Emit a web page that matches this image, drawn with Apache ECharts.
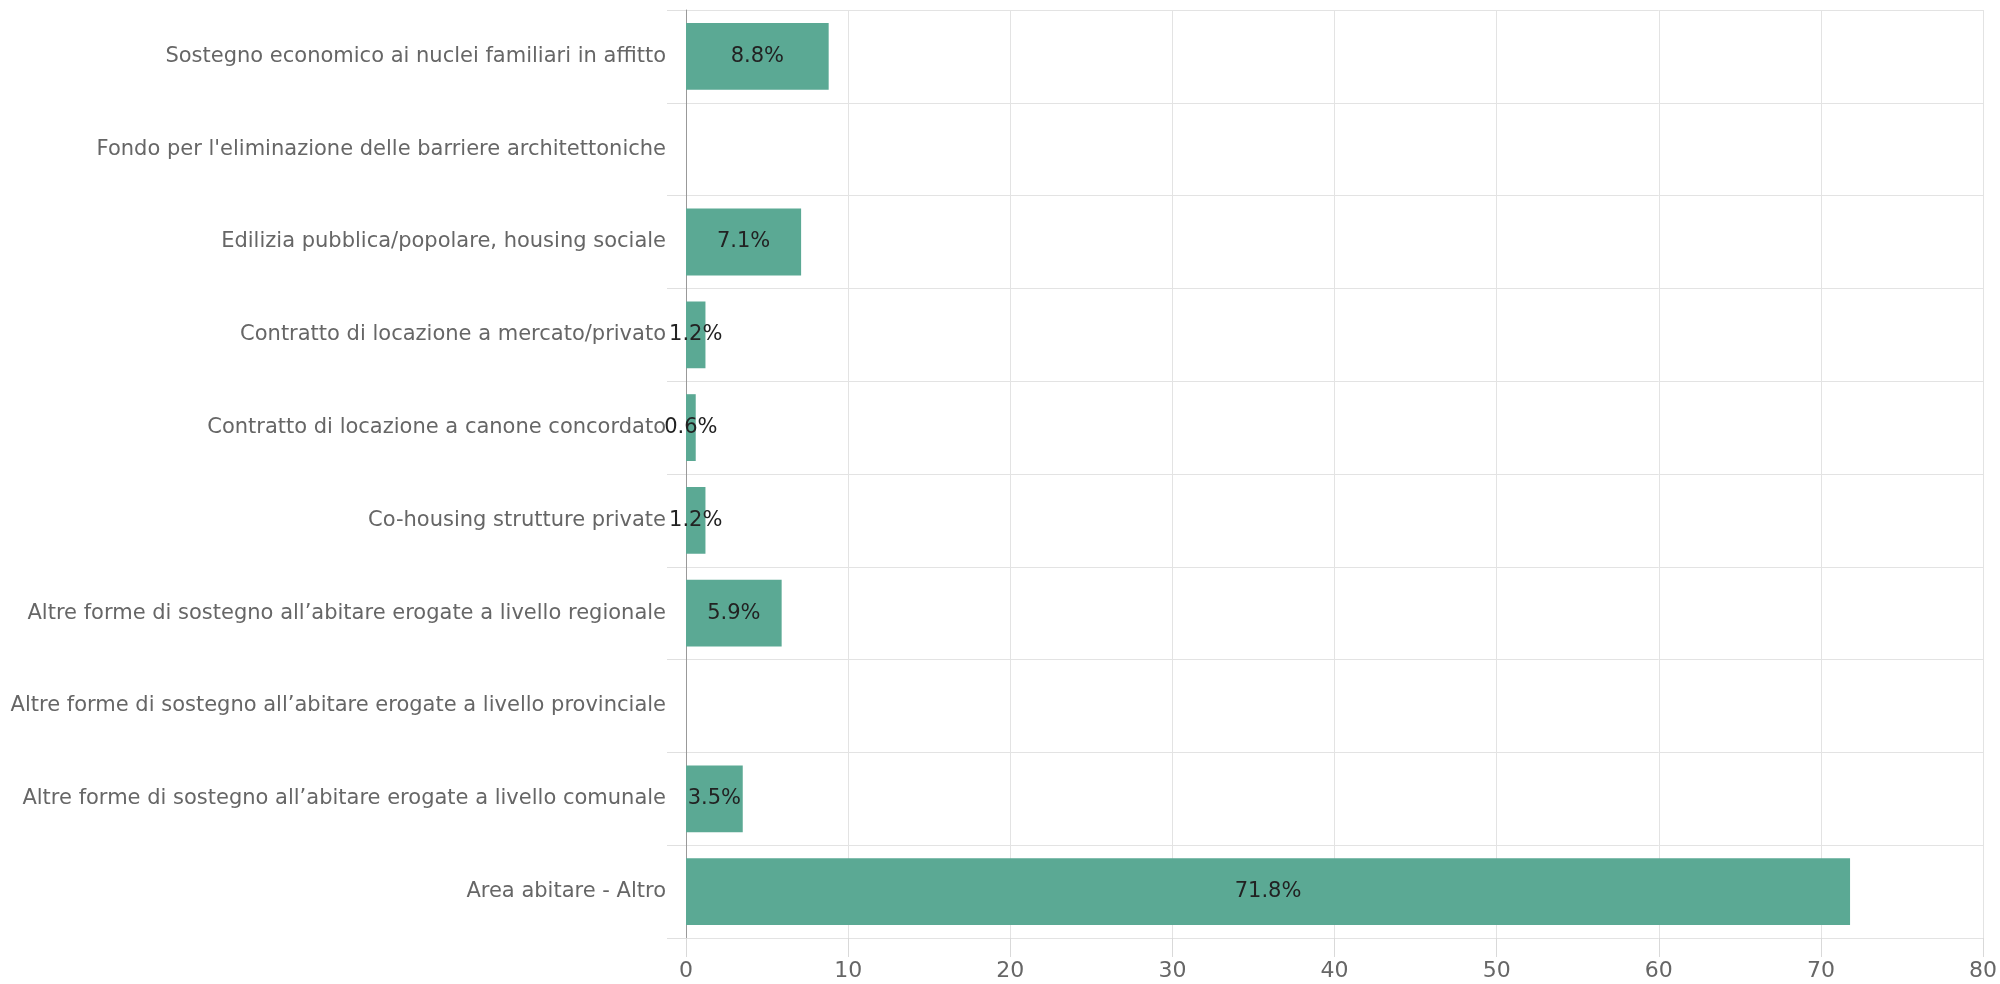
<!DOCTYPE html>
<html><head><meta charset="utf-8">
<script src="https://cdn.jsdelivr.net/npm/echarts@6/dist/echarts.min.js"></script>
<style>html,body{margin:0;padding:0;background:#fff}#c{width:2000px;height:984px}</style>
</head><body><div id="c"></div>
<script>
const categories = [
  "Sostegno economico ai nuclei familiari in affitto",
  "Fondo per l'eliminazione delle barriere architettoniche",
  "Edilizia pubblica/popolare, housing sociale",
  "Contratto di locazione a mercato/privato",
  "Contratto di locazione a canone concordato",
  "Co-housing strutture private",
  "Altre forme di sostegno all’abitare erogate a livello regionale",
  "Altre forme di sostegno all’abitare erogate a livello provinciale",
  "Altre forme di sostegno all’abitare erogate a livello comunale",
  "Area abitare - Altro"
];
const values = [8.8, 0, 7.1, 1.2, 0.6, 1.2, 5.9, 0, 3.5, 71.8];
const xTicks = [0, 10, 20, 30, 40, 50, 60, 70, 80];

const chart = echarts.init(document.getElementById('c'), null, {renderer: 'canvas'});
chart.setOption({
  animation: false,
  textStyle: {fontFamily: 'DejaVu Sans, sans-serif'},
  grid: {left: 686, right: 17, top: 10, bottom: 46, containLabel: false},
  xAxis: {
    type: 'value', min: xTicks[0], max: xTicks[xTicks.length - 1], interval: 10,
    axisLine: {show: false},
    axisTick: {show: true, length: 19, lineStyle: {color: '#d9d9d9'}},
    axisLabel: {color: '#666', fontSize: 22, margin: 22},
    splitLine: {lineStyle: {color: '#e3e3e3'}}
  },
  yAxis: {
    type: 'category', data: categories, inverse: true,
    axisLine: {show: true, lineStyle: {color: '#999'}},
    axisTick: {show: true, length: 19, lineStyle: {color: '#e0e0e0'}},
    axisLabel: {color: '#666', fontSize: 21, margin: 20},
    splitLine: {show: true, lineStyle: {color: '#e3e3e3'}}
  },
  series: [{
    type: 'bar', data: values, barWidth: '72%',
    itemStyle: {color: '#5ba994'},
    label: {
      show: true, position: 'inside', color: '#222', fontSize: 21,
      formatter: p => p.value ? p.value.toFixed(1) + '%' : ''
    }
  }]
});
</script></body></html>
